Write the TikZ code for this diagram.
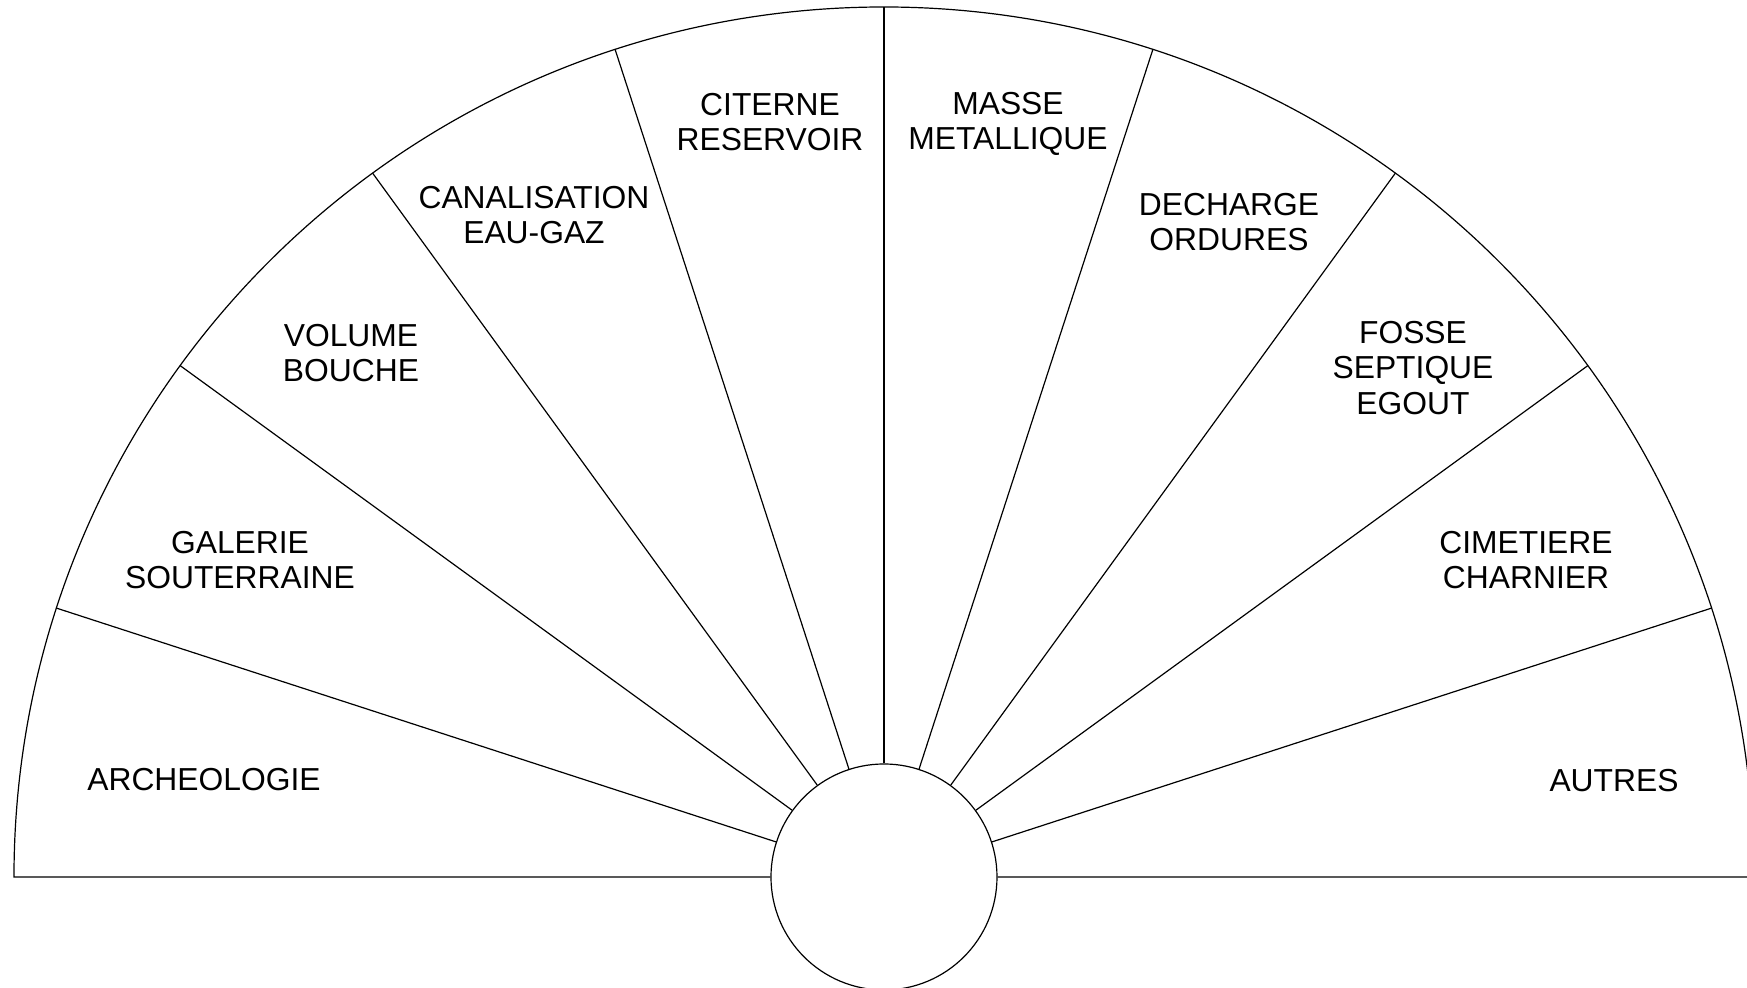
\documentclass[tikz,border=0pt]{standalone}
\usepackage{fontspec}
\setmainfont{Liberation Sans}
\usepackage{tikz}

\tikzset{
    lbl/.style={align=center, inner sep=0pt, font=\fontsize{15.9}{17.9}\selectfont},
    rim/.style={line width=0.6pt}
}

\begin{document}
\begin{tikzpicture}[x=0.5pt, y=0.5pt, rim]
    \useasboundingbox (-884,-111) rectangle (863,877);
    % hub and rim
    \node[draw, circle, minimum size=113pt, inner sep=0pt] (hub) at (0,0) {};
    \draw (hub.west) -- (-870,0) arc[start angle=180, end angle=0, radius=870] -- (hub.east);
    % spokes
    \foreach \a in {18,36,...,162}
        \draw (hub.\a) -- (\a:870);
    % sectors
    \node[lbl] (archeologie) at (-680,97) {ARCHEOLOGIE};
    \node[lbl] (galerie) at (-644,317) {GALERIE\\SOUTERRAINE};
    \node[lbl] (volume) at (-533,524) {VOLUME\\BOUCHE};
    \node[lbl] (canalisation) at (-350,662) {CANALISATION\\EAU-GAZ};
    \node[lbl] (citerne) at (-114,755) {CITERNE\\RESERVOIR};
    \node[lbl] (masse) at (124,753) {MASSE\\METALLIQUE};
    \node[lbl] (decharge) at (345,655) {DECHARGE\\ORDURES};
    \node[lbl] (fosse) at (529,509) {FOSSE\\SEPTIQUE\\EGOUT};
    \node[lbl] (cimetiere) at (642,317) {CIMETIERE\\CHARNIER};
    \node[lbl] (autres) at (730,96) {AUTRES};
\end{tikzpicture}
\end{document}
